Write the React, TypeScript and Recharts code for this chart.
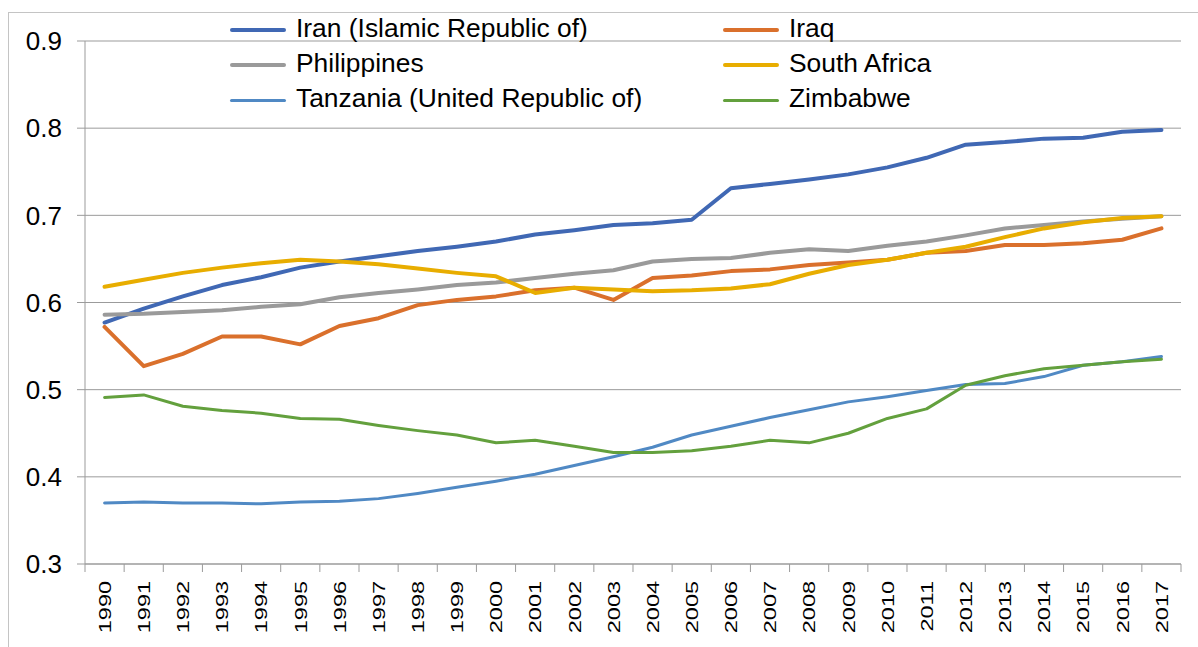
import React from 'react';
import { LineChart, Line, XAxis, YAxis, CartesianGrid, Legend } from 'recharts';

const years = [
  1990, 1991, 1992, 1993, 1994, 1995, 1996, 1997, 1998, 1999, 2000, 2001, 2002, 2003,
  2004, 2005, 2006, 2007, 2008, 2009, 2010, 2011, 2012, 2013, 2014, 2015, 2016, 2017,
];

const iran = [
  0.577, 0.593, 0.607, 0.620, 0.629, 0.640, 0.647, 0.653, 0.659, 0.664, 0.670, 0.678, 0.683, 0.689,
  0.691, 0.695, 0.731, 0.736, 0.741, 0.747, 0.755, 0.766, 0.781, 0.784, 0.788, 0.789, 0.796, 0.798,
];
const iraq = [
  0.572, 0.527, 0.541, 0.561, 0.561, 0.552, 0.573, 0.582, 0.597, 0.603, 0.607, 0.614, 0.617, 0.603,
  0.628, 0.631, 0.636, 0.638, 0.643, 0.646, 0.649, 0.657, 0.659, 0.666, 0.666, 0.668, 0.672, 0.685,
];
const philippines = [
  0.586, 0.587, 0.589, 0.591, 0.595, 0.598, 0.606, 0.611, 0.615, 0.620, 0.623, 0.628, 0.633, 0.637,
  0.647, 0.650, 0.651, 0.657, 0.661, 0.659, 0.665, 0.670, 0.677, 0.685, 0.689, 0.693, 0.696, 0.699,
];
const southAfrica = [
  0.618, 0.626, 0.634, 0.640, 0.645, 0.649, 0.647, 0.644, 0.639, 0.634, 0.630, 0.611, 0.617, 0.615,
  0.613, 0.614, 0.616, 0.621, 0.633, 0.643, 0.649, 0.657, 0.664, 0.675, 0.685, 0.692, 0.697, 0.699,
];
const tanzania = [
  0.370, 0.371, 0.370, 0.370, 0.369, 0.371, 0.372, 0.375, 0.381, 0.388, 0.395, 0.403, 0.413, 0.423,
  0.434, 0.448, 0.458, 0.468, 0.477, 0.486, 0.492, 0.499, 0.506, 0.507, 0.515, 0.528, 0.532, 0.538,
];
const zimbabwe = [
  0.491, 0.494, 0.481, 0.476, 0.473, 0.467, 0.466, 0.459, 0.453, 0.448, 0.439, 0.442, 0.435, 0.428,
  0.428, 0.430, 0.435, 0.442, 0.439, 0.450, 0.467, 0.478, 0.505, 0.516, 0.524, 0.528, 0.532, 0.535,
];

const yTicks = [0.3, 0.4, 0.5, 0.6, 0.7, 0.8, 0.9];

const series = [
  { key: 'iran', name: 'Iran (Islamic Republic of)', values: iran, color: '#4068B4', width: 4 },
  { key: 'iraq', name: 'Iraq', values: iraq, color: '#DA702C', width: 4 },
  { key: 'philippines', name: 'Philippines', values: philippines, color: '#9A9A9A', width: 4 },
  { key: 'southAfrica', name: 'South Africa', values: southAfrica, color: '#E8AD00', width: 4 },
  { key: 'tanzania', name: 'Tanzania (United Republic of)', values: tanzania, color: '#5089C4', width: 3 },
  { key: 'zimbabwe', name: 'Zimbabwe', values: zimbabwe, color: '#63A03D', width: 3 },
];

const data = years.map((year, i) => {
  const row: Record<string, any> = { year: String(year) };
  series.forEach((s) => {
    row[s.key] = s.values[i];
  });
  return row;
});

const FONT = '"Liberation Sans", Arial, sans-serif';
const AXIS = '#9b9b9b';
const CHART_W = 1190;
const CHART_H = 635;
const Y_W = 77;
const MARGIN = { top: 29, right: 17, bottom: 13, left: 0 };
const STEP = (CHART_W - Y_W - MARGIN.right) / years.length;

// year labels: rotated, a little condensed like the original export
const YearTick = (props: any) => {
  const { x, y, payload, index } = props;
  const last = index === years.length - 1;
  return (
    <g transform={`translate(${x},${y})`}>
      <line x1={-STEP / 2} x2={-STEP / 2} y1={-17} y2={-9} stroke={AXIS} />
      {last && <line x1={STEP / 2} x2={STEP / 2} y1={-17} y2={-9} stroke={AXIS} />}
      <text
        transform="rotate(-90) scale(1,0.74)"
        textAnchor="end"
        dy={8.4}
        fontSize={23.5}
        fontFamily={FONT}
        fill="#000"
      >
        {payload.value}
      </text>
    </g>
  );
};

const rowTops = [1, 36, 71];

const LegendBox = () => (
  <div style={{ position: 'relative', width: CHART_W, height: 105, fontFamily: FONT }}>
    {series.map((s, i) => {
      const col = i % 2;
      const row = Math.floor(i / 2);
      return (
        <div
          key={s.key}
          style={{
            position: 'absolute',
            left: col ? 715 : 222,
            top: rowTops[row],
            height: 30,
            display: 'flex',
            alignItems: 'center',
            whiteSpace: 'nowrap',
          }}
        >
          <div
            style={{
              width: 56,
              height: s.width,
              borderRadius: s.width / 2,
              background: s.color,
              marginTop: 4,
              marginRight: 10,
            }}
          />
          <span style={{ fontSize: 26.4, lineHeight: '30px', color: '#000' }}>{s.name}</span>
        </div>
      );
    })}
  </div>
);

export default function App() {
  return (
    <div
      style={{
        position: 'absolute',
        left: 8,
        top: 12,
        width: CHART_W,
        height: CHART_H,
        borderLeft: '1px solid #c4c4c4',
        borderTop: '1px solid #c4c4c4',
        boxSizing: 'border-box',
        background: '#fff',
        overflow: 'hidden',
      }}
    >
      <div style={{ position: 'absolute', left: -1, top: -1 }}>
        <LineChart width={CHART_W} height={CHART_H} data={data} margin={MARGIN}>
          <CartesianGrid vertical={false} stroke={AXIS} strokeWidth={1} />
          <XAxis
            dataKey="year"
            scale="point"
            padding={{ left: STEP / 2, right: STEP / 2 }}
            interval={0}
            height={70}
            tickLine={false}
            tickSize={8}
            tickMargin={9}
            axisLine={{ stroke: AXIS }}
            tick={<YearTick />}
          />
          <YAxis
            width={Y_W}
            domain={[0.3, 0.9]}
            ticks={yTicks}
            interval={0}
            tickSize={8}
            tickMargin={15}
            tickLine={{ stroke: AXIS }}
            axisLine={{ stroke: AXIS }}
            tickFormatter={(v: number) => v.toFixed(1)}
            tick={{ fontSize: 26, fontFamily: FONT, fill: '#000' }}
          />
          <Legend
            layout="horizontal"
            verticalAlign="middle"
            align="center"
            wrapperStyle={{ top: 0, left: 0, width: CHART_W }}
            content={() => <LegendBox />}
          />
          {series.map((s) => (
            <Line
              key={s.key}
              type="linear"
              dataKey={s.key}
              name={s.name}
              stroke={s.color}
              strokeWidth={s.width}
              strokeLinejoin="round"
              strokeLinecap="round"
              dot={false}
              activeDot={false}
              isAnimationActive={false}
            />
          ))}
        </LineChart>
      </div>
    </div>
  );
}
